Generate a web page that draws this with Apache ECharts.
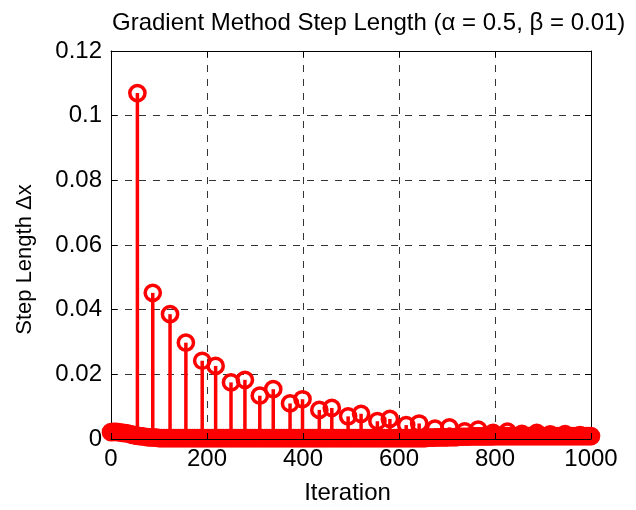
<!DOCTYPE html>
<html><head><meta charset="utf-8">
<script src="https://cdn.jsdelivr.net/npm/echarts@6/dist/echarts.min.js"></script>
<style>html,body{margin:0;padding:0;background:#fff}#c{width:636px;height:510px}</style>
</head><body><div id="c"></div>
<script>
// ---- data ----
const titleText = 'Gradient Method Step Length (\u03b1 = 0.5, \u03b2 = 0.01)';
const xName = 'Iteration';
const yName = 'Step Length \u0394x';
const xTickLabels = ['0', '200', '400', '600', '800', '1000'];
const yTickLabels = ['0', '0.02', '0.04', '0.06', '0.08', '0.1', '0.12'];

// large steps (iteration, step length)
const spikeIter = [55, 87, 123, 156, 190, 218, 250, 279, 310, 338, 373, 399, 434, 460, 494, 521,
  555, 581, 615, 642, 675, 705, 737, 765, 796, 826, 856, 887, 915, 946, 977];
const spikeVal = [0.1070, 0.0452, 0.0386, 0.0298, 0.0242, 0.0226, 0.0175, 0.0183, 0.0134, 0.0154,
  0.0110, 0.0123, 0.0090, 0.0096, 0.0070, 0.0078, 0.0055, 0.0062, 0.0043, 0.0048,
  0.0032, 0.0036, 0.0024, 0.0029, 0.0019, 0.0023, 0.0016, 0.0019, 0.0014, 0.0015, 0.0012];

// small steps, read every 5 iterations from 0 to 1000
const baseStep = 5;
const baseVal = [
  0.0021, 0.0022, 0.0022, 0.0021, 0.0020, 0.0019, 0.0018, 0.0017, 0.0015, 0.0013,
  0.0012, 0.0010, 0.0009, 0.0008, 0.0007, 0.0006, 0.0005, 0.0005, 0.0004, 0.0004,
  0.0003, 0.0003, 0.0003, 0.0003, 0.0003, 0.0003, 0.0003, 0.0003, 0.0003, 0.0003,
  0.0003, 0.0003, 0.0003, 0.0003, 0.0003, 0.0003, 0.0003, 0.0003, 0.0003, 0.0003,
  0.0003, 0.0003, 0.0003, 0.0003, 0.0003, 0.0003, 0.0003, 0.0003, 0.0003, 0.0003,
  0.0003, 0.0003, 0.0003, 0.0003, 0.0003, 0.0003, 0.0003, 0.0003, 0.0003, 0.0003,
  0.0003, 0.0003, 0.0003, 0.0003, 0.0003, 0.0003, 0.0003, 0.0003, 0.0003, 0.0003,
  0.0003, 0.0003, 0.0003, 0.0003, 0.0003, 0.0003, 0.0003, 0.0003, 0.0003, 0.0003,
  0.0003, 0.0003, 0.0003, 0.0003, 0.0003, 0.0003, 0.0003, 0.0003, 0.0003, 0.0003,
  0.0003, 0.0003, 0.0003, 0.0003, 0.0003, 0.0003, 0.0003, 0.0003, 0.0003, 0.0003,
  0.0003, 0.0003, 0.0003, 0.0003, 0.0003, 0.0003, 0.0003, 0.0003, 0.0003, 0.0003,
  0.0003, 0.0003, 0.0003, 0.0003, 0.0003, 0.0003, 0.0003, 0.0003, 0.0003, 0.0003,
  0.0003, 0.0003, 0.0003, 0.0003, 0.0003, 0.0003, 0.0003, 0.0003, 0.0003, 0.0003,
  0.0003, 0.0003, 0.0004, 0.0004, 0.0004, 0.0004, 0.0005, 0.0005, 0.0005, 0.0005,
  0.0005, 0.0006, 0.0006, 0.0006, 0.0006, 0.0007, 0.0007, 0.0007, 0.0007, 0.0007,
  0.0008, 0.0008, 0.0008, 0.0008, 0.0008, 0.0008, 0.0008, 0.0008, 0.0008, 0.0008,
  0.0009, 0.0009, 0.0009, 0.0009, 0.0009, 0.0009, 0.0009, 0.0009, 0.0009, 0.0009,
  0.0009, 0.0009, 0.0009, 0.0009, 0.0009, 0.0009, 0.0009, 0.0009, 0.0009, 0.0009,
  0.0009, 0.0009, 0.0009, 0.0009, 0.0009, 0.0009, 0.0009, 0.0009, 0.0009, 0.0009,
  0.0009, 0.0009, 0.0009, 0.0009, 0.0009, 0.0009, 0.0009, 0.0009, 0.0009, 0.0009,
  0.0009
];

// ---- build ----
const stemData = [];
baseVal.forEach((v, i) => stemData.push([i * baseStep, v]));
spikeIter.forEach((it, i) => stemData.push([it, spikeVal[i]]));

const FONT = "'Liberation Sans', Arial, sans-serif";
const RED = '#ff0000';
const chart = echarts.init(document.getElementById('c'), null, {renderer: 'canvas'});

const xMin = +xTickLabels[0], xMax = +xTickLabels[xTickLabels.length - 1];
const xInt = +xTickLabels[1] - +xTickLabels[0];
const yMin = +yTickLabels[0], yMax = +yTickLabels[yTickLabels.length - 1];
const yInt = +yTickLabels[1] - +yTickLabels[0];

function fmtX(v) {
  const idx = Math.round((v - xMin) / xInt);
  return xTickLabels[idx] !== undefined ? xTickLabels[idx] : '';
}
function fmtY(v) {
  const idx = Math.round((v - yMin) / yInt);
  return yTickLabels[idx] !== undefined ? yTickLabels[idx] : '';
}
const gridDash = {show: true, lineStyle: {color: '#333', width: 1, type: [7, 7]}};
const boxAxis = (pos, extra) => Object.assign({
  type: 'value', position: pos, z: 0,
  axisLine: {show: true, onZero: false, lineStyle: {color: '#000', width: 1}},
  axisTick: {show: true, inside: true, length: 6, lineStyle: {color: '#000'}},
  axisLabel: {show: false}, splitLine: {show: false}
}, extra);

chart.setOption({
  animation: false,
  backgroundColor: '#fff',
  title: {
    text: titleText, left: 107, top: 6,
    textStyle: {fontFamily: FONT, fontSize: 24, fontWeight: 'normal', color: '#000'}
  },
  grid: {left: 111, right: 45, top: 51, bottom: 70, containLabel: false},
  xAxis: [
    {
      type: 'value', position: 'bottom', min: xMin, max: xMax, interval: xInt, z: 0,
      name: xName, nameLocation: 'middle', nameGap: 42,
      nameTextStyle: {fontFamily: FONT, fontSize: 24, color: '#000', padding: [0, 7, 0, 0]},
      axisLine: {show: false}, axisTick: {show: false},
      axisLabel: {fontFamily: FONT, fontSize: 24, color: '#000', margin: 8, formatter: fmtX},
      splitLine: gridDash
    },
    boxAxis('bottom', {min: xMin, max: xMax, interval: xInt, z: 5}),
    boxAxis('top', {min: xMin, max: xMax, interval: xInt})
  ],
  yAxis: [
    {
      type: 'value', position: 'left', min: yMin, max: yMax, interval: yInt, z: 0,
      name: yName, nameLocation: 'middle', nameGap: 75, nameRotate: 90,
      nameTextStyle: {fontFamily: FONT, fontSize: 22, color: '#000', padding: [0, 29, 0, 0]},
      axisLine: {show: false}, axisTick: {show: false},
      axisLabel: {fontFamily: FONT, fontSize: 24, color: '#000', margin: 9, formatter: fmtY},
      splitLine: gridDash
    },
    boxAxis('left', {min: yMin, max: yMax, interval: yInt}),
    boxAxis('right', {min: yMin, max: yMax, interval: yInt})
  ],
  series: [{
    type: 'custom',
    xAxisIndex: 0, yAxisIndex: 0,
    z: 2,
    clip: false,
    data: stemData,
    renderItem: function (params, api) {
      const x = api.value(0), y = api.value(1);
      const top = api.coord([x, y]);
      const base = api.coord([x, 0]);
      return {
        type: 'group',
        children: [
          {type: 'line', shape: {x1: base[0], y1: base[1], x2: top[0], y2: top[1]},
            style: {stroke: RED, lineWidth: 3.5}},
          {type: 'circle', shape: {cx: top[0], cy: top[1], r: 7.6},
            style: {fill: null, stroke: RED, lineWidth: 3.5}}
        ]
      };
    }
  }]
});
</script>
</body></html>
